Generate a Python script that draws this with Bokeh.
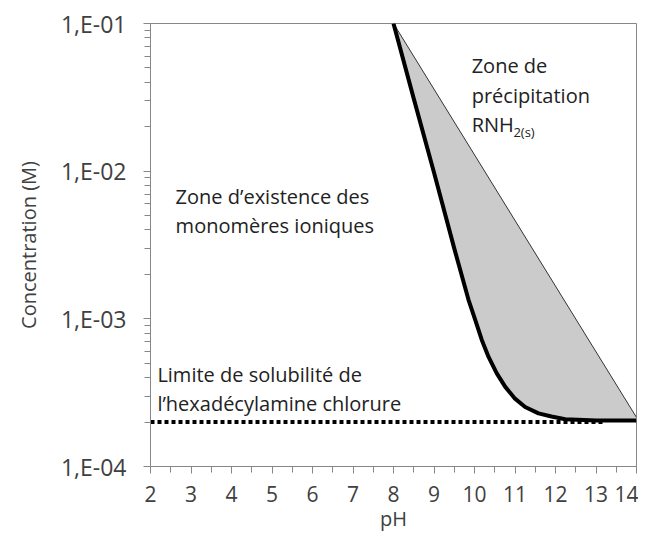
from bokeh.plotting import figure
from bokeh.models import FixedTicker, CustomJSTickFormatter, Label
from bokeh.embed import file_html
from bokeh.resources import INLINE

# Data
curve_ph = [8.0, 8.5, 9.0, 9.5, 9.85, 10.02, 10.18, 10.35, 10.55, 10.76, 11.0, 11.25, 11.58, 11.9, 12.24, 13.0, 14.0]
curve_conc = [1.0e-1, 3.1e-2, 9.8e-3, 3.0e-3, 1.35e-3, 9.8e-4, 7.2e-4, 5.5e-4, 4.27e-4, 3.46e-4,
              2.88e-4, 2.53e-4, 2.29e-4, 2.18e-4, 2.09e-4, 2.05e-4, 2.05e-4]
upper_ph = [8.0, 14.0]
upper_conc = [1.0e-1, 2.15e-4]
limit_ph = [2.0, 13.2]
limit_conc = [2.0e-4, 2.0e-4]

x_ticks = [2, 3, 4, 5, 6, 7, 8, 9, 10, 11, 12, 13, 14]
x_minor = [2.5, 3.5, 4.5, 5.5, 6.5, 7.5, 8.5, 9.5, 10.5, 11.5, 12.5, 13.5]
y_ticks = [1e-4, 1e-3, 1e-2, 1e-1]
y_minor = [m * d for d in [1e-4, 1e-3, 1e-2] for m in range(2, 10)]

FONT = "Open Sans"
AX = "#878787"
TXT = "#404040"

p = figure(width=638, height=541, x_range=(2, 14), y_range=(1e-4, 1e-1),
           y_axis_type="log", output_backend="svg", toolbar_location=None,
           min_border_left=150, min_border_right=2, min_border_top=23, min_border_bottom=75)
p.xgrid.visible = False
p.ygrid.visible = False
p.outline_line_color = AX
p.outline_line_width = 1
p.background_fill_color = "white"
p.border_fill_color = "white"

# Shaded zone between the curve and the upper line
p.patch(curve_ph + upper_ph[::-1], curve_conc + upper_conc[::-1],
        fill_color="#cbcbcb", line_color=None)
p.line(upper_ph, upper_conc, line_color="#333333", line_width=1)
p.line(limit_ph, limit_conc, line_color="black", line_width=4, line_dash="4 3", line_cap="butt")
p.line(curve_ph, curve_conc, line_color="black", line_width=4, line_join="round")

# Axes
p.xaxis.ticker = FixedTicker(ticks=x_ticks, minor_ticks=x_minor)
p.yaxis.ticker = FixedTicker(ticks=y_ticks, minor_ticks=y_minor)
p.yaxis.formatter = CustomJSTickFormatter(code="""
const e = Math.round(Math.log10(tick));
const s = Math.abs(e).toString().padStart(2, '0');
return '1,E' + (e < 0 ? '-' : '+') + s;
""")
for ax in (p.xaxis[0], p.yaxis[0]):
    ax.axis_line_color = AX
    ax.major_tick_line_color = AX
    ax.minor_tick_line_color = AX
    ax.major_tick_in = 0
    ax.major_tick_out = 7
    ax.minor_tick_in = 0
    ax.minor_tick_out = 6
    ax.major_label_text_font = FONT
    ax.major_label_text_color = TXT
    ax.axis_label_text_font = FONT
    ax.axis_label_text_font_style = "normal"
    ax.axis_label_text_color = TXT
    ax.axis_label_text_font_size = "20px"
p.xaxis.axis_label = "pH"
p.yaxis.axis_label = "Concentration (M)"
p.xaxis.major_label_text_font_size = "21px"
p.yaxis.major_label_text_font_size = "23px"
p.xaxis.major_label_standoff = 12
p.xaxis.axis_label_standoff = 0
p.yaxis.major_label_standoff = 17
p.yaxis.axis_label_standoff = 16

def lab(x, y, t, size="20px", **kw):
    p.add_layout(Label(x=x, y=y, text=t, text_font=FONT, text_font_size=size,
                       text_color="#222222", text_baseline="middle", text_align="left", **kw))

lab(9.93, 0.0519, "Zone de")
lab(9.93, 0.0324, "précipitation")
lab(9.93, 0.0206, "RNH")
lab(10.96, 0.0185, "2(s)", size="13px")
lab(2.62, 6.7e-3, "Zone d\u2019existence des")
lab(2.62, 4.26e-3, "monomères ioniques")
lab(2.17, 4.2e-4, "Limite de solubilité de")
lab(2.17, 2.67e-4, "l\u2019hexadécylamine chlorure")

open("out.html", "w").write(file_html(p, INLINE))
